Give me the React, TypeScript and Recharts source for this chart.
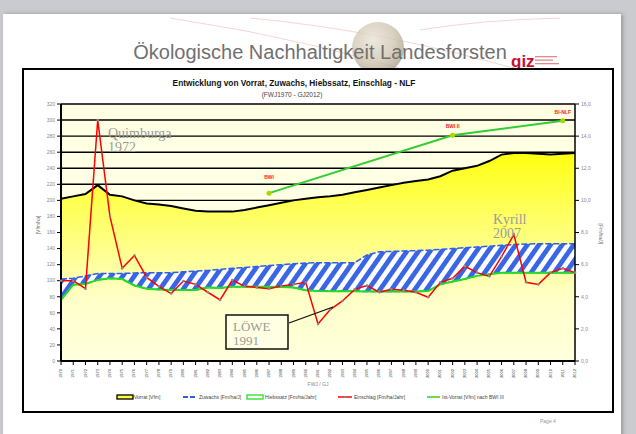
import { ComposedChart, Area, Line, XAxis, YAxis, CartesianGrid, LabelList } from 'recharts'

// categories: FWJ 1970 ... GJ 2012
const years = [
  '1970', '1971', '1972', '1973', '1974', '1975', '1976', '1977', '1978', '1979',
  '1980', '1981', '1982', '1983', '1984', '1985', '1986', '1987', '1988', '1989',
  '1990', '1991', '1992', '1993', '1994', '1995', '1996', '1997', '1998', '1999',
  '2000', '2001', '2002', '2003', '2004', '2005', '2006', '2007', '2008', '2009',
  '2010', '2011', '2012',
]

// Vorrat [Vfm/ha] - left axis
const vorrat = [
  202, 205, 208, 219, 207, 205, 200, 196, 195, 193,
  190, 187, 186, 186, 186, 188, 191, 194, 197, 200,
  202, 204, 205, 207, 210, 213, 216, 219, 222, 224,
  226, 230, 237, 240, 243, 249, 257, 259, 259, 258,
  257, 258, 259,
]

// Zuwachs [Fm/ha/J] - right axis
const zuwachs = [
  5.1, 5.15, 5.3, 5.45, 5.45, 5.45, 5.48, 5.5, 5.5, 5.5,
  5.55, 5.6, 5.64, 5.7, 5.77, 5.82, 5.88, 5.94, 6.0, 6.05,
  6.1, 6.12, 6.12, 6.12, 6.12, 6.6, 6.8, 6.82, 6.85, 6.87,
  6.9, 6.95, 7.0, 7.05, 7.1, 7.15, 7.2, 7.25, 7.28, 7.3,
  7.3, 7.3, 7.3,
]

// Hiebssatz [Fm/ha/J] - right axis
const hiebssatz = [
  3.8, 4.75, 4.8, 5.05, 5.15, 5.1, 4.7, 4.5, 4.45, 4.42,
  4.42, 4.42, 4.58, 4.55, 4.62, 4.62, 4.62, 4.62, 4.6, 4.58,
  4.4, 4.36, 4.35, 4.34, 4.34, 4.33, 4.33, 4.32, 4.32, 4.32,
  4.36, 4.77, 4.95, 5.1, 5.3, 5.4, 5.5, 5.5, 5.5, 5.5,
  5.5, 5.5, 5.5,
]

// Einschlag [Fm/ha/J] - right axis
const einschlag = [
  5.0, 5.0, 4.5, 15.0, 9.0, 5.77, 6.57, 5.2, 4.65, 4.2,
  4.98, 4.77, 4.28, 3.8, 5.04, 4.65, 4.58, 4.5, 4.67, 4.77,
  4.9, 2.3, 3.2, 3.74, 4.46, 4.7, 4.28, 4.46, 4.4, 4.28,
  3.97, 4.9, 5.15, 5.9, 5.5, 5.27, 6.5, 7.87, 4.9, 4.77,
  5.5, 5.77, 5.5,
]

// Ist-Vorrat nach Inventur (BWI I, BWI II, BI-NLF) - left axis
const bwiYears = ['1987', '2002', '2011']
const bwiVorrat = [209, 281, 299]
const bwiNames = ['BWI', 'BWI II', 'BI-NLF']

const leftTicks = [0, 20, 40, 60, 80, 100, 120, 140, 160, 180, 200, 220, 240, 260, 280, 300, 320]
const rightTicks = [0, 2, 4, 6, 8, 10, 12, 14, 16]

const data = years.map((year, i) => {
  const b = bwiYears.indexOf(year)
  return {
    year,
    vorrat: vorrat[i],
    band: [hiebssatz[i], zuwachs[i]],
    hiebssatz: hiebssatz[i],
    einschlag: einschlag[i],
    bwi: b >= 0 ? bwiVorrat[b] : null,
    bwiName: b >= 0 ? bwiNames[b] : '',
  }
})

const FONT = 'Liberation Sans, Arial, sans-serif'
const SERIF = 'Liberation Serif, Times New Roman, serif'

const YearTick = ({ x, y, payload }: any) => (
  <text
    x={x}
    y={y + 2}
    transform={`rotate(-90 ${x} ${y + 2})`}
    textAnchor="end"
    dominantBaseline="middle"
    fontSize={4}
    fontFamily={FONT}
    fill="#333"
  >
    {payload.value}
  </text>
)

const BwiLabel = (props: any) => {
  const { x, y, value, index } = props
  if (!value) return null
  const lift = index === 17 ? 14 : 7
  return (
    <text x={x} y={y - lift} textAnchor="middle" fontSize={5} fontWeight="bold" fontFamily={FONT} fill="#FF2020">
      {value}
    </text>
  )
}

export default function App() {
  const legend = [
    { x: 117, w: 16, label: 'Vorrat [Vfm]', kind: 'box', color: '#000', fill: '#FFFF40', tx: 134 },
    { x: 183, w: 14, label: 'Zuwachs [Fm/ha/J]', kind: 'dash', color: '#2f5fe8', tx: 199 },
    { x: 247, w: 16, label: 'Hiebssatz [Fm/ha/Jahr]', kind: 'box', color: '#22DD22', fill: '#fff', tx: 265 },
    { x: 338, w: 14, label: 'Einschlag [Fm/ha/Jahr]', kind: 'line', color: '#FF0000', tx: 354 },
    { x: 427, w: 13, label: 'Ist-Vorrat [Vfm] nach BWI III', kind: 'line', color: '#33CC33', tx: 442 },
  ]

  return (
    <div style={{ position: 'absolute', left: 0, top: 0, width: 636, height: 434, background: '#C9CBCE', overflow: 'hidden' }}>
      <svg width={0} height={0} style={{ position: 'absolute' }}>
        <defs>
          <linearGradient id="vorratFill" x1="0" y1="0" x2="0" y2="1">
            <stop offset="0" stopColor="#FFFF10" />
            <stop offset="0.35" stopColor="#FFFF70" />
            <stop offset="0.7" stopColor="#FFFFC8" />
            <stop offset="1" stopColor="#FFFFDE" />
          </linearGradient>
          <pattern id="hatch" width="9.5" height="9.5" patternUnits="userSpaceOnUse" patternTransform="rotate(35)">
            <rect width="9.5" height="9.5" fill="#FFFFFF" />
            <rect width="4.8" height="9.5" fill="#3A66E6" />
          </pattern>
          <radialGradient id="globe" cx="0.4" cy="0.35" r="0.7">
            <stop offset="0" stopColor="#E9E3D6" />
            <stop offset="0.6" stopColor="#CFC5B0" />
            <stop offset="1" stopColor="#A99D87" />
          </radialGradient>
        </defs>
      </svg>

      {/* slide */}
      <div style={{ position: 'absolute', left: 3, top: 14, width: 618, height: 430, background: '#fff', boxShadow: '2px 0 4px rgba(0,0,0,0.25)' }} />
      <svg width={636} height={434} style={{ position: 'absolute', left: 0, top: 0 }}>
        <path d="M 170 18 Q 320 40 470 90" stroke="#F3D6D6" strokeWidth={1} fill="none" />
        <path d="M 250 18 Q 380 30 520 70" stroke="#F3D6D6" strokeWidth={1} fill="none" />
        <path d="M 420 30 Q 480 20 560 18" stroke="#F3D6D6" strokeWidth={1} fill="none" />
        <circle cx={378} cy={48} r={26} fill="url(#globe)" opacity={0.8} />
        <text x={320} y={59} textAnchor="middle" fontSize={20} fontFamily={FONT} fill="#707070">
          Ökologische Nachhaltigkeit Landesforsten
        </text>
        <text x={511} y={67} fontSize={17} fontWeight="bold" fontFamily={FONT} fill="#C8102E">giz</text>
        <rect x={535} y={56} width={22} height={1.3} fill="#E08A8A" />
        <rect x={535} y={59.5} width={18} height={1.3} fill="#E08A8A" />
        <rect x={535} y={63} width={24} height={1.3} fill="#E08A8A" />
        <text x={540} y={423} fontSize={5} fontFamily={FONT} fill="#999">Page 4</text>
      </svg>

      {/* chart frame */}
      <div style={{ position: 'absolute', left: 22, top: 68, width: 592, height: 345, background: '#fff', border: '2px solid #000', boxSizing: 'border-box' }} />

      <div style={{ position: 'absolute', left: 0, top: 0 }}>
        <ComposedChart
          width={636}
          height={434}
          data={data}
          margin={{ top: 104, right: 31, bottom: 53, left: 31 }}
        >
          <CartesianGrid
            yAxisId="left"
            vertical={false}
            stroke="#000"
            strokeWidth={1.4}
            fill="#FFFFE3"
            fillOpacity={1}
          />
          <XAxis
            dataKey="year"
            scale="point"
            padding={{ left: 0, right: 0 }}
            interval={0}
            height={20}
            tick={<YearTick />}
            tickSize={4}
            tickLine={{ stroke: '#000' }}
            axisLine={{ stroke: '#000', strokeWidth: 2 }}
          />
          <YAxis
            yAxisId="left"
            width={30}
            domain={[0, 320]}
            ticks={leftTicks}
            interval={0}
            tickSize={4}
            tick={{ fontSize: 5, fill: '#888', fontFamily: FONT }}
            tickLine={{ stroke: '#000' }}
            axisLine={{ stroke: '#000', strokeWidth: 2 }}
          />
          <YAxis
            yAxisId="right"
            orientation="right"
            width={30}
            domain={[0, 16]}
            ticks={rightTicks}
            interval={0}
            tickSize={4}
            tickFormatter={(v: number) => v.toFixed(1).replace('.', ',')}
            tick={{ fontSize: 5, fill: '#888', fontFamily: FONT }}
            tickLine={{ stroke: '#000' }}
            axisLine={{ stroke: '#000', strokeWidth: 1.5 }}
          />
          <Area
            yAxisId="left"
            dataKey="vorrat"
            type="linear"
            stroke="#000"
            strokeWidth={2}
            fill="url(#vorratFill)"
            fillOpacity={1}
            isAnimationActive={false}
          />
          <Area
            yAxisId="right"
            dataKey="band"
            type="linear"
            stroke="#2F5FE8"
            strokeWidth={1.5}
            strokeDasharray="6 2"
            fill="url(#hatch)"
            fillOpacity={1}
            isAnimationActive={false}
          />
          <Line
            yAxisId="right"
            dataKey="hiebssatz"
            type="linear"
            stroke="#22DD22"
            strokeWidth={2}
            dot={false}
            isAnimationActive={false}
          />
          <Line
            yAxisId="right"
            dataKey="einschlag"
            type="linear"
            stroke="#FF0000"
            strokeWidth={1.5}
            dot={{ r: 1.3, fill: '#8A8A8A', stroke: 'none' }}
            isAnimationActive={false}
          />
          <Line
            yAxisId="left"
            dataKey="bwi"
            type="linear"
            connectNulls
            stroke="#33CC33"
            strokeWidth={2}
            dot={{ r: 2.5, fill: '#A6D800', stroke: 'none' }}
            isAnimationActive={false}
          >
            <LabelList dataKey="bwiName" content={<BwiLabel />} />
          </Line>
        </ComposedChart>
      </div>

      {/* titles, axis titles, annotations, legend */}
      <svg width={636} height={434} style={{ position: 'absolute', left: 0, top: 0, pointerEvents: 'none' }}>
        <text x={294} y={86} textAnchor="middle" fontSize={8.3} fontWeight="bold" fontFamily={FONT} fill="#111">
          Entwicklung von Vorrat, Zuwachs, Hiebssatz, Einschlag - NLF
        </text>
        <text x={292} y={97} textAnchor="middle" fontSize={6.5} fontFamily={FONT} fill="#444">
          (FWJ1970 - GJ2012)
        </text>
        <text x={40} y={225} transform="rotate(-90 40 225)" textAnchor="middle" fontSize={5} fontFamily={FONT} fill="#777">
          [Vfm/ha]
        </text>
        <text x={599} y={234} transform="rotate(90 599 234)" textAnchor="middle" fontSize={5} fontFamily={FONT} fill="#777">
          [Fm/ha/J]
        </text>
        <text x={318} y={386} textAnchor="middle" fontSize={5} fontFamily={FONT} fill="#888">FWJ / GJ</text>

        <text x={108} y={138} fontSize={14} fontFamily={SERIF} fill="#9A9A9A">Quimburga</text>
        <text x={108} y={152} fontSize={14} fontFamily={SERIF} fill="#9A9A9A">1972</text>
        <text x={493} y={224} fontSize={14} fontFamily={SERIF} fill="#9A9A9A">Kyrill</text>
        <text x={493} y={238} fontSize={14} fontFamily={SERIF} fill="#9A9A9A">2007</text>
        <line x1={289} y1={323} x2={333} y2={307} stroke="#111" strokeWidth={1.3} />
        <rect x={226} y={315} width={62} height={34} fill="#FFFFE3" stroke="#111" strokeWidth={1.5} />
        <text x={233} y={331} fontSize={13} fontFamily={SERIF} fill="#9A9A9A">LÖWE</text>
        <text x={233} y={345} fontSize={13} fontFamily={SERIF} fill="#9A9A9A">1991</text>

        {legend.map((l) => (
          <g key={l.label}>
            {l.kind === 'box' && (
              <rect x={l.x} y={395} width={l.w} height={4} fill={l.fill} stroke={l.color} strokeWidth={1.3} />
            )}
            {l.kind === 'dash' && (
              <line x1={l.x} y1={397} x2={l.x + l.w} y2={397} stroke={l.color} strokeWidth={2} strokeDasharray="5 2" />
            )}
            {l.kind === 'line' && (
              <g>
                <line x1={l.x} y1={397} x2={l.x + l.w} y2={397} stroke={l.color} strokeWidth={1.5} />
                <rect x={l.x + l.w / 2 - 1} y={396} width={2} height={2} fill={l.color === '#FF0000' ? '#888' : '#A6D800'} />
              </g>
            )}
            <text x={l.tx} y={399} fontSize={5} fontFamily={FONT} fill="#444">{l.label}</text>
          </g>
        ))}
      </svg>
    </div>
  )
}
